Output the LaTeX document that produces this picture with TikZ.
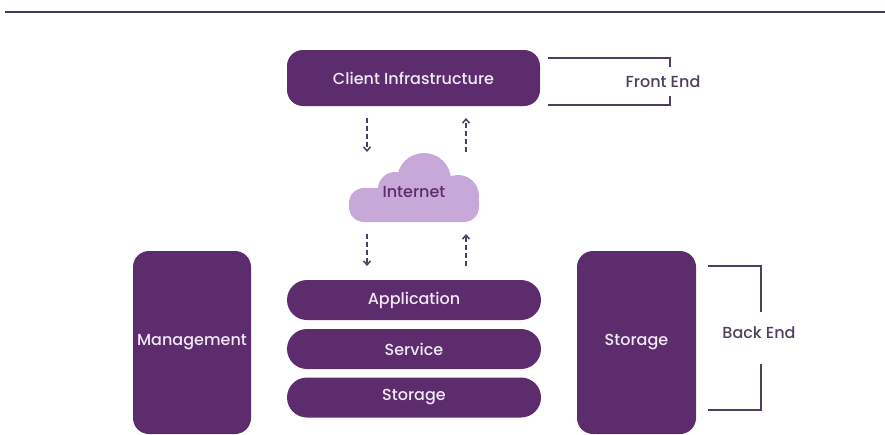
\documentclass[tikz,border=0pt]{standalone}
\usepackage{fontspec}
\setmainfont{Poppins Medium}
\usetikzlibrary{arrows.meta}

\definecolor{plum}{HTML}{5C2C6D}
\definecolor{lilac}{HTML}{C8A8D9}
\definecolor{ink}{HTML}{4F3F5F}
\definecolor{paper}{HTML}{F1E8F4}
\definecolor{rule}{HTML}{3E3A5C}

\tikzset{
  layer/.style={fill=plum, text=paper, inner sep=0pt, font=\fontsize{16}{19}\selectfont},
  flow/.style={ink, line width=1.5pt, dash pattern=on 5pt off 3pt, -{Straight Barb[length=4pt,width=7pt]}},
  brace/.style={ink, line width=1.6pt},
  tag/.style={text=ink, font=\fontsize{16}{19}\selectfont}
}

\begin{document}
\begin{tikzpicture}[x=1pt, y=-1pt]
  \useasboundingbox (0,0) rectangle (885,434);

  % --- top rule ---
  \draw[rule, line width=1.5pt] (5,12) -- (885,12);

  % --- Front End ---
  \node[layer, rounded corners=16pt, minimum width=253pt, minimum height=56pt] (client) at (413.5,78) {Client Infrastructure};
  \node[tag] (front) at (663,82) {Front End};
  \draw[brace] (548,58) -| (670,67);
  \draw[brace] (548,105) -| (670,96);

  % --- Internet (cloud) ---
  \begin{scope}[lilac]
    \fill[rounded corners=15pt] (349,188) rectangle (479,222);
    \fill (366,205) circle (17);
    \fill (395,189) circle (17);
    \fill (424,180) circle (27);
    \fill (458,196) circle (21);
  \end{scope}
  \node[text=plum, font=\fontsize{16}{19}\selectfont] (net) at (414,192) {Internet};

  % --- arrows ---
  \coordinate (c1) at (367,118);
  \coordinate (c2) at (367,152);
  \coordinate (c3) at (466,152);
  \coordinate (c4) at (466,118);
  \coordinate (c5) at (367,234);
  \coordinate (c6) at (367,266);
  \coordinate (c7) at (466,266);
  \coordinate (c8) at (466,234);
  \draw[flow] (c1) -- (c2);
  \draw[flow] (c3) -- (c4);
  \draw[flow] (c5) -- (c6);
  \draw[flow] (c7) -- (c8);

  % --- Back End stack ---
  \node[layer, rounded corners=20pt, minimum width=254pt, minimum height=40pt] (app) at (414,300) {Application};
  \node[layer, rounded corners=20pt, minimum width=254pt, minimum height=40pt] (serv) at (414,349) {Service};
  \node[layer, rounded corners=20pt, minimum width=254pt, minimum height=40pt] (stor) at (414,397.5) {Storage};

  % --- side blocks ---
  \node[layer, rounded corners=16pt, minimum width=118pt, minimum height=183pt] (mgmt) at (192,342.5) {Management};
  \node[layer, rounded corners=16pt, minimum width=119pt, minimum height=183pt] (disk) at (636.5,342.5) {Storage};

  % --- Back End bracket ---
  \node[tag] (back) at (759,333) {Back End};
  \draw[brace] (708,266) -| (761,312);
  \draw[brace] (708,410) -| (761,364);
\end{tikzpicture}
\end{document}
